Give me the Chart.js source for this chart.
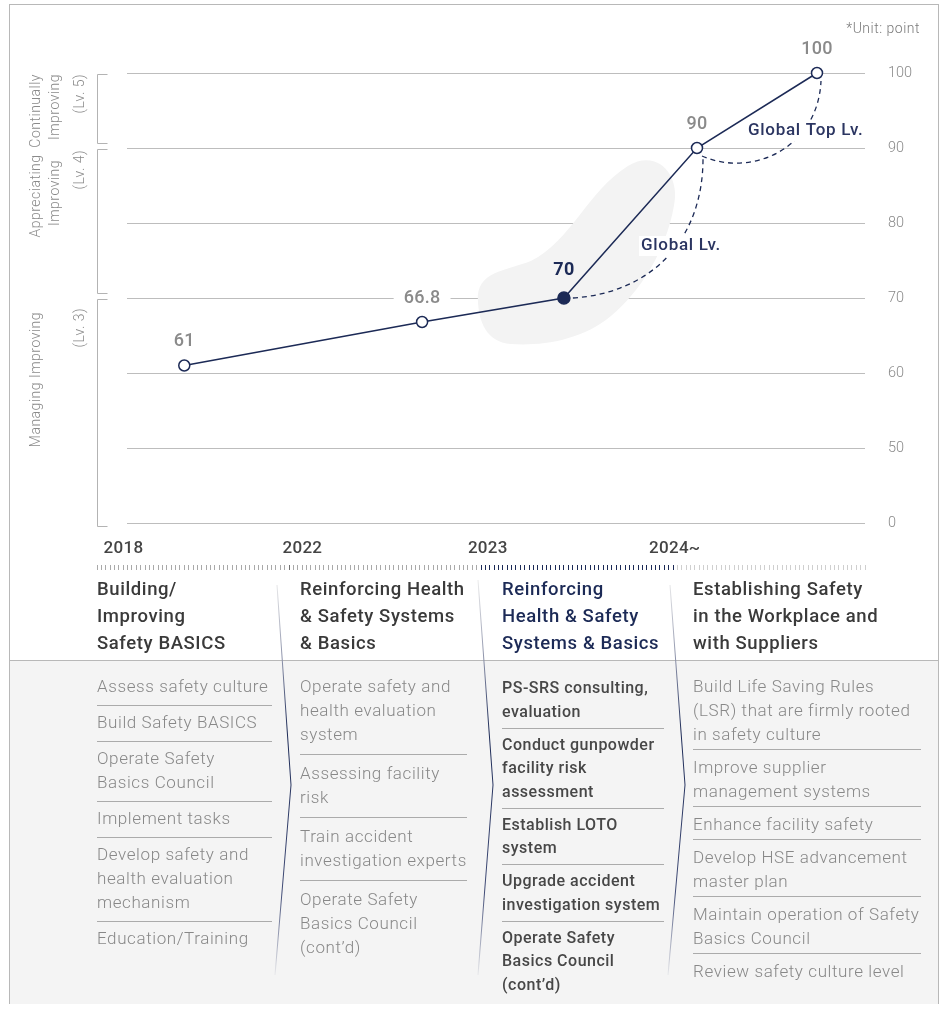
<!DOCTYPE html>
<html>
<head>
<meta charset="utf-8">
<title>Safety culture level roadmap</title>
<script src="https://cdn.jsdelivr.net/npm/chart.js@4.4.1/dist/chart.umd.min.js"></script>
<style>
  html, body { margin:0; padding:0; background:#fff; }
  body { width:940px; height:1009px; position:relative; overflow:hidden; font-family: Roboto, "Noto Sans", sans-serif; }
  .frame { position:absolute; left:9px; top:4px; width:930px; height:1000px; border:1px solid #b8b8b8; border-bottom:none; box-sizing:border-box; }
  .panel { position:absolute; left:10px; top:660px; width:928px; height:343px; background:#f4f4f4; border-top:1px solid #b8b8b8; }
  #chart { position:absolute; left:0; top:0; }
  svg.sep { position:absolute; left:0; top:0; }
  .title { position:absolute; font-weight:500; font-size:18.5px; letter-spacing:0.6px; line-height:27px; color:#3a3a3a; white-space:nowrap; }
  .title.now { color:#1c2a56; }
  .list { position:absolute; white-space:nowrap; font-weight:300; font-size:17px; letter-spacing:0.6px; line-height:24px; color:#888; }
  .list .item { border-bottom:1px solid #ababab; padding:4px 0 7px; }
  .list .item:last-child { border-bottom:none; }
  .list.c2 .item { padding:6px 0 8px; }
  .list.c3 { font-weight:500; font-size:16px; letter-spacing:0.5px; line-height:23.5px; color:#474747; }
  .list.c3 .item { padding:4px 0 4.5px; }
  .list.c4 .item { padding:5px 0 3px; }
</style>
</head>
<body>
<div class="frame"></div>
<div class="panel"></div>
<canvas id="chart" width="940" height="600"></canvas>

<svg class="sep" width="940" height="1009">
  <defs>
    <linearGradient id="sepGrad" gradientUnits="userSpaceOnUse" x1="0" y1="580" x2="0" y2="980">
      <stop offset="0" stop-color="#ececec"/>
      <stop offset="0.2" stop-color="#8a90a8"/>
      <stop offset="0.38" stop-color="#1c2a56"/>
      <stop offset="0.78" stop-color="#3f4a75"/>
      <stop offset="1" stop-color="#f2f2f2"/>
    </linearGradient>
  </defs>
  <polyline points="277,585 291,785 275,975" fill="none" stroke="url(#sepGrad)" stroke-width="1"/>
  <polyline points="478,580 493,785 478,975" fill="none" stroke="url(#sepGrad)" stroke-width="1"/>
  <polyline points="670,585 685,785 668,975" fill="none" stroke="url(#sepGrad)" stroke-width="1"/>
</svg>

<div class="title" style="left:97px;top:576px">Building/<br>Improving<br>Safety BASICS</div>
<div class="title" style="left:300px;top:576px">Reinforcing Health<br>&amp; Safety Systems<br>&amp; Basics</div>
<div class="title now" style="left:502px;top:576px">Reinforcing<br>Health &amp; Safety<br>Systems &amp; Basics</div>
<div class="title" style="left:693px;top:576px">Establishing Safety<br>in the Workplace and<br>with Suppliers</div>

<div class="list c1" style="left:97px;top:670px;width:175px">
  <div class="item">Assess safety culture</div>
  <div class="item">Build Safety BASICS</div>
  <div class="item">Operate Safety<br>Basics Council</div>
  <div class="item">Implement tasks</div>
  <div class="item">Develop safety and<br>health evaluation<br>mechanism</div>
  <div class="item">Education/Training</div>
</div>
<div class="list c2" style="left:300px;top:668px;width:167px">
  <div class="item">Operate safety and<br>health evaluation<br>system</div>
  <div class="item">Assessing facility<br>risk</div>
  <div class="item">Train accident<br>investigation experts</div>
  <div class="item">Operate Safety<br>Basics Council<br>(cont’d)</div>
</div>
<div class="list c3" style="left:502px;top:672px;width:162px">
  <div class="item">PS-SRS consulting,<br>evaluation</div>
  <div class="item">Conduct gunpowder<br>facility risk<br>assessment</div>
  <div class="item">Establish LOTO<br>system</div>
  <div class="item">Upgrade accident<br>investigation system</div>
  <div class="item">Operate Safety<br>Basics Council<br>(cont’d)</div>
</div>
<div class="list c4" style="left:693px;top:669px;width:228px">
  <div class="item">Build Life Saving Rules<br>(LSR) that are firmly rooted<br>in safety culture</div>
  <div class="item">Improve supplier<br>management systems</div>
  <div class="item">Enhance facility safety</div>
  <div class="item">Develop HSE advancement<br>master plan</div>
  <div class="item">Maintain operation of Safety<br>Basics Council</div>
  <div class="item">Review safety culture level</div>
</div>

<script>
// ---- data ----
const stageLabels = ['2018', '2022', '2023', '2024~'];
const stageStart = [0, 44, 88, 132];            // timeline steps where each stage begins
const stageLabelAt = [1.5, 42.5, 85, 126.5];     // timeline steps where each year label starts
const RULER_STEPS = 176;                          // total timeline steps (44 per stage)
const CURRENT_STAGE = 2;

const scores = [61, 66.8, 70, 90, 100];
const scorePos = [20, 74.5, 107, 137.5, 165];    // timeline steps
const CURRENT_POINT = 2;

const yTickValues = [40, 50, 60, 70, 80, 90, 100];
const yTickLabels = ['0', '50', '60', '70', '80', '90', '100'];
const Y_MIN = 34.4;

const levelBands = [[90, 100], [70, 90], [40, 70]];
const levelNames = [
  ['Continually', 'Improving', '(Lv. 5)'],
  ['Appreciating', 'Improving', '(Lv. 4)'],
  ['Managing Improving', '', '(Lv. 3)']
];

// ---- styles ----
const NAVY = '#1c2a56';
const LABEL_NAVY = '#2b3561';
const GREY_TEXT = '#8a8a8a';
const FONT = 'Roboto, "Noto Sans", sans-serif';

// where each rotated level caption sits (column x, anchor y, alignment along the text)
const levelLabelLayout = [
  [{x: 36, y: 74, a: 'right'}, {x: 55, y: 74, a: 'right'}, {x: 80, y: 74, a: 'right'}],
  [{x: 36, y: 196, a: 'center'}, {x: 55, y: 193, a: 'center'}, {x: 80, y: 150, a: 'right'}],
  [{x: 36, y: 312, a: 'right'}, null, {x: 80, y: 308, a: 'right'}]
];

function rulerColor(v) {
  if (v >= stageStart[CURRENT_STAGE] && v <= stageStart[CURRENT_STAGE + 1]) return NAVY;
  if (v < stageStart[CURRENT_STAGE]) return (v === stageStart[1]) ? '#6f6f6f' : '#a9a9a9';
  return '#cfcfcf';
}

const decor = {
  id: 'decor',
  beforeDatasetsDraw(chart) {
    const {ctx, chartArea: a, scales: {y}} = chart;
    const pts = chart.getDatasetMeta(0).data;
    ctx.save();

    // horizontal guide lines
    ctx.strokeStyle = '#bdbdbd';
    ctx.lineWidth = 1;
    yTickValues.forEach(v => {
      const py = Math.round(y.getPixelForValue(v)) + 0.5;
      ctx.beginPath();
      ctx.moveTo(a.left + 30, py);
      ctx.lineTo(a.right, py);
      ctx.stroke();
    });

    // level brackets on the left
    ctx.strokeStyle = '#b3b3b3';
    levelBands.forEach(([lo, hi], i) => {
      const top = Math.round(y.getPixelForValue(hi)) + 1.5;
      const bot = Math.round(y.getPixelForValue(lo)) + (i === levelBands.length - 1 ? 3.5 : -4.5);
      const bx = a.left + 0.5;
      ctx.beginPath();
      ctx.moveTo(bx + 10, top);
      ctx.lineTo(bx, top);
      ctx.lineTo(bx, bot);
      ctx.lineTo(bx + 10, bot);
      ctx.stroke();
    });

    // rotated level captions
    ctx.fillStyle = GREY_TEXT;
    ctx.font = `300 14px ${FONT}`;
    ctx.letterSpacing = '0.5px';
    ctx.textBaseline = 'middle';
    levelNames.forEach((lines, i) => {
      lines.forEach((t, j) => {
        const L = levelLabelLayout[i][j];
        if (!t || !L) return;
        ctx.save();
        ctx.translate(L.x, L.y);
        ctx.rotate(-Math.PI / 2);
        ctx.textAlign = L.a;
        ctx.fillText(t, 0, 0);
        ctx.restore();
      });
    });
    ctx.letterSpacing = '0px';

    // soft highlight behind the current score
    const c = pts[CURRENT_POINT];
    const P = (dx, dy) => [c.x + dx, c.y + dy];
    ctx.fillStyle = '#f3f3f3';
    ctx.beginPath();
    ctx.moveTo(...P(-86, 3));
    ctx.bezierCurveTo(...P(-88, -27), ...P(-58, -27), ...P(-33, -37));
    ctx.bezierCurveTo(...P(7, -57), ...P(24, -107), ...P(64, -132));
    ctx.bezierCurveTo(...P(94, -150), ...P(117, -122), ...P(110, -92));
    ctx.bezierCurveTo(...P(102, -47), ...P(77, -7), ...P(47, 18));
    ctx.bezierCurveTo(...P(17, 43), ...P(-23, 48), ...P(-53, 46));
    ctx.bezierCurveTo(...P(-78, 44), ...P(-85, 23), ...P(-86, 3));
    ctx.closePath();
    ctx.fill();

    // dashed paths toward the global levels
    const p70 = pts[2], p90 = pts[3], p100 = pts[4];
    ctx.strokeStyle = NAVY;
    ctx.lineWidth = 1.3;
    ctx.setLineDash([5, 4]);
    ctx.beginPath();
    ctx.moveTo(p70.x + 9, p70.y);
    ctx.bezierCurveTo(p70.x + 87, p70.y - 5, p90.x + 7, p90.y + 92, p90.x + 6, p90.y + 8);
    ctx.stroke();
    ctx.beginPath();
    ctx.moveTo(p90.x + 5, p90.y + 8);
    ctx.bezierCurveTo(p90.x + 55, p90.y + 30, p100.x + 1, p100.y + 75, p100.x + 4, p100.y + 8);
    ctx.stroke();
    ctx.setLineDash([]);

    ctx.restore();
  },
  afterDatasetsDraw(chart) {
    const {ctx, chartArea: a, scales: {x}} = chart;
    const pts = chart.getDatasetMeta(0).data;
    ctx.save();
    ctx.textBaseline = 'middle';

    // score labels
    ctx.textAlign = 'center';
    pts.forEach((pt, i) => {
      const cur = i === CURRENT_POINT;
      const txt = String(scores[i]);
      ctx.font = `${cur ? 700 : 500} 18px ${FONT}`;
      ctx.letterSpacing = '0.3px';
      const ty = pt.y - (cur ? 28 : 24);
      if (i === 1) {
        const w = ctx.measureText(txt).width;
        ctx.fillStyle = '#fff';
        ctx.fillRect(pt.x - w / 2 - 10, ty - 10, w + 20, 20);
      }
      ctx.fillStyle = cur ? NAVY : GREY_TEXT;
      ctx.fillText(txt, pt.x, ty);
    });

    // global level captions
    const p90 = pts[3];
    ctx.textAlign = 'left';
    ctx.font = `500 17px ${FONT}`;
    ctx.letterSpacing = '0.7px';
    [['Global Lv.', p90.x - 56, p90.y + 98], ['Global Top Lv.', p90.x + 51, p90.y - 17]].forEach(([t, lx, ly]) => {
      const w = ctx.measureText(t).width;
      ctx.fillStyle = '#fff';
      ctx.fillRect(lx - 2, ly - 10, w + 4, 20);
      ctx.fillStyle = LABEL_NAVY;
      ctx.fillText(t, lx, ly);
    });

    // unit note
    ctx.textAlign = 'right';
    ctx.font = `300 14px ${FONT}`;
    ctx.letterSpacing = '0.5px';
    ctx.fillStyle = '#7a7a7a';
    ctx.fillText('*Unit: point', 920, 29);

    // stage years above the ruler
    ctx.textAlign = 'left';
    ctx.font = `500 17px ${FONT}`;
    ctx.letterSpacing = '0.3px';
    ctx.fillStyle = '#444';
    stageLabels.forEach((t, i) => {
      ctx.fillText(t, x.getPixelForValue(stageLabelAt[i]), a.bottom - 16);
    });
    ctx.letterSpacing = '0px';
    ctx.restore();
  }
};

new Chart(document.getElementById('chart'), {
  type: 'line',
  data: {
    datasets: [{
      data: scores.map((v, i) => ({x: scorePos[i], y: v})),
      borderColor: NAVY,
      borderWidth: 1.5,
      tension: 0,
      clip: false,
      pointRadius: c => c.dataIndex === CURRENT_POINT ? 6 : 5.5,
      pointHoverRadius: c => c.dataIndex === CURRENT_POINT ? 6 : 5.5,
      pointBorderWidth: 1.5,
      pointBorderColor: NAVY,
      pointBackgroundColor: c => c.dataIndex === CURRENT_POINT ? NAVY : '#fff'
    }]
  },
  options: {
    responsive: false,
    animation: false,
    devicePixelRatio: 1,
    events: [],
    layout: {padding: {left: 97, top: 73, right: 0, bottom: 25}, autoPadding: false},
    plugins: {legend: {display: false}, tooltip: {enabled: false}},
    scales: {
      x: {
        type: 'linear',
        position: 'bottom',
        min: 0,
        max: RULER_STEPS,
        grid: {
          display: true,
          drawOnChartArea: false,
          drawTicks: true,
          tickLength: 5,
          lineWidth: 1,
          color: c => c.tick ? rulerColor(c.tick.value) : '#a9a9a9'
        },
        border: {display: false},
        ticks: {display: false, stepSize: 1, autoSkip: false, maxTicksLimit: 500},
        afterFit: s => { s.height = 10; }
      },
      y: {
        type: 'linear',
        position: 'right',
        min: Y_MIN,
        max: 100,
        grid: {display: false, drawTicks: false},
        border: {display: false},
        afterBuildTicks: s => { s.ticks = yTickValues.map(v => ({value: v})); },
        afterFit: s => { s.width = 75; },
        ticks: {
          padding: 23,
          color: GREY_TEXT,
          font: {family: FONT, size: 14.5, weight: '300'},
          callback: v => { const k = yTickValues.indexOf(v); return k >= 0 ? yTickLabels[k] : ''; }
        }
      }
    }
  },
  plugins: [decor]
});
</script>
</body>
</html>
